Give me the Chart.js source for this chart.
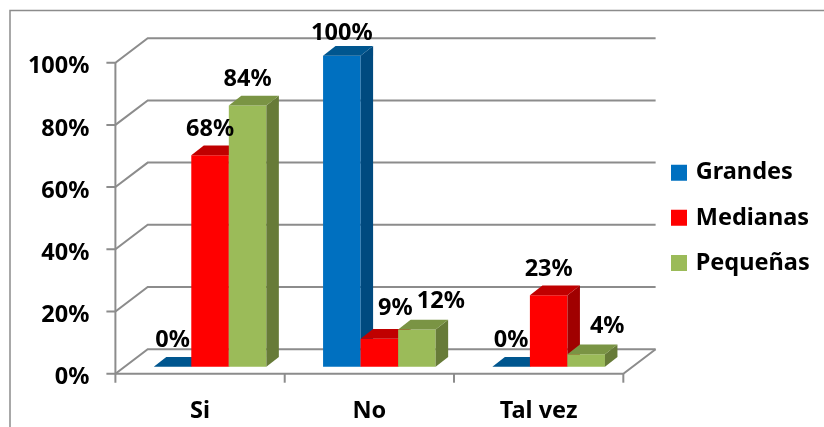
<!DOCTYPE html>
<html>
<head>
<meta charset="utf-8">
<style>
  html, body { margin: 0; padding: 0; background: #fff; overflow: hidden; }
  #wrap { position: relative; width: 824px; height: 427px; }
</style>
<script src="https://cdn.jsdelivr.net/npm/chart.js@4/dist/chart.umd.js"></script>
</head>
<body>
<div id="wrap"><canvas id="chart" width="824" height="427"></canvas></div>
<script>
const categories = ["Si", "No", "Tal vez"];
const grandes = [0, 100, 0];
const medianas = [68, 9, 23];
const pequenas = [84, 12, 4];

const FONT = "'Noto Sans'";
const FONT_SIZE = 23.5;
const LINE = "#8c8c8c";
// bar depth, wall depth, and how far the front axes sit from the bars
const BAR_DX = 12.5, BAR_DY = 9.7;
const WALL_DX = 32.3, WALL_DY = 24.5;
const FRONT_DX = -10, FRONT_DY = 7;
// label nudges per dataset/category, where the labels sit off centre
const labelNudge = { "0:1": [0, 4], "1:1": [16, -4], "2:1": [24, -2], "2:2": [21, -2] };

function line(ctx, pts) {
  ctx.beginPath();
  pts.forEach((p, i) => (i ? ctx.lineTo(p[0], p[1]) : ctx.moveTo(p[0], p[1])));
  ctx.stroke();
}

function poly(ctx, color, pts) {
  ctx.fillStyle = color;
  ctx.beginPath();
  pts.forEach((p, i) => (i ? ctx.lineTo(p[0], p[1]) : ctx.moveTo(p[0], p[1])));
  ctx.closePath();
  ctx.fill();
}

const frame3d = {
  id: "frame3d",
  afterLayout(chart) {
    // legend sits on its own, right of the back wall (it clips to this box)
    const lg = chart.legend;
    const p = lg.options.labels.padding;
    lg.left = 674 - p;
    lg.top = 161 - p;
    lg.right = chart.width;
    lg.bottom = chart.height;
  },
  beforeDatasetsDraw(chart) {
    const { ctx, scales: { x, y } } = chart;
    const left = x.left + FRONT_DX, right = x.right + FRONT_DX;
    ctx.save();
    ctx.strokeStyle = LINE;

    // outer chart border, cut off by the picture on the right and bottom
    ctx.lineWidth = 1.5;
    line(ctx, [[10, 427], [10, 10.5], [824, 10.5]]);

    ctx.lineWidth = 2;
    y.ticks.forEach((t) => {
      const py = y.getPixelForValue(t.value) + FRONT_DY;
      line(ctx, [[left - 9, py], [left, py], [left + WALL_DX, py - WALL_DY], [right + WALL_DX, py - WALL_DY]]);
    });
    const y0 = y.getPixelForValue(0) + FRONT_DY;
    const y100 = y.getPixelForValue(100) + FRONT_DY;
    line(ctx, [[left, y100], [left, y0 + 9]]);
    line(ctx, [[left, y0], [right, y0], [right + WALL_DX, y0 - WALL_DY]]);
    categories.forEach((c, i) => {
      const tx = left + ((right - left) * (i + 1)) / categories.length;
      line(ctx, [[tx, y0], [tx, y0 + 9]]);
    });
    ctx.restore();
  },
  // chart.js paints the first dataset last, here the later series must overlap the earlier
  beforeDatasetDraw() {
    return false;
  },
  afterDatasetsDraw(chart) {
    const { ctx } = chart;
    chart.data.datasets.forEach((ds, d) => {
      chart.getDatasetMeta(d).data.forEach((bar) => {
        const l = bar.x - bar.width / 2, r = bar.x + bar.width / 2;
        bar.draw(ctx);
        poly(ctx, ds.sideColor, [[r, bar.y], [r + BAR_DX, bar.y - BAR_DY], [r + BAR_DX, bar.base - BAR_DY], [r, bar.base]]);
        poly(ctx, ds.capColor, [[l, bar.y], [l + BAR_DX, bar.y - BAR_DY], [r + BAR_DX, bar.y - BAR_DY], [r, bar.y]]);
      });
    });
    ctx.save();
    ctx.font = "bold " + FONT_SIZE + "px " + FONT;
    ctx.fillStyle = "#000";
    ctx.textAlign = "center";
    ctx.textBaseline = "middle";
    chart.data.datasets.forEach((ds, d) => {
      chart.getDatasetMeta(d).data.forEach((bar, i) => {
        const n = labelNudge[d + ":" + i] || [0, 0];
        ctx.fillText(ds.data[i] + "%", bar.x + n[0], bar.y - 26 + n[1]);
      });
    });
    ctx.restore();
  },
};

new Chart(document.getElementById("chart"), {
  type: "bar",
  data: {
    labels: categories,
    datasets: [
      { label: "Grandes", data: grandes, backgroundColor: "#0070c0", sideColor: "#004a7f", capColor: "#00568f" },
      { label: "Medianas", data: medianas, backgroundColor: "#ff0000", sideColor: "#a00000", capColor: "#c00000" },
      { label: "Pequeñas", data: pequenas, backgroundColor: "#9bbb59", sideColor: "#677b38", capColor: "#7a9444" },
    ],
  },
  options: {
    responsive: false,
    animation: false,
    layout: { padding: { top: 55.7, right: 23.4, bottom: 0, left: 0 } },
    datasets: { bar: { categoryPercentage: 0.665, barPercentage: 1, borderWidth: 0 } },
    scales: {
      x: {
        grid: { display: false },
        border: { display: false },
        afterFit(s) { s.height = 60.3; },
        ticks: {
          color: "#000",
          font: { family: FONT, size: FONT_SIZE, weight: "bold" },
          padding: 23,
          labelOffset: -10,
          maxRotation: 0,
        },
      },
      y: {
        min: 0,
        max: 100,
        grid: { display: false },
        border: { display: false },
        afterFit(s) { s.width = 125.4; },
        ticks: {
          stepSize: 20,
          color: "#000",
          font: { family: FONT, size: FONT_SIZE, weight: "bold" },
          padding: 28,
          labelOffset: 11,
          callback: (v) => v + "%",
        },
      },
    },
    plugins: {
      tooltip: { enabled: false },
      legend: {
        position: "right",
        align: "start",
        labels: {
          color: "#000",
          boxWidth: 10,
          boxHeight: 10,
          padding: 21.6,
          font: { family: FONT, size: FONT_SIZE, weight: "bold" },
          // thick same-colour stroke: keeps the swatch 16px but the text closer to it
          generateLabels(chart) {
            return Chart.defaults.plugins.legend.labels.generateLabels(chart).map((it) => ({
              ...it,
              lineWidth: 6,
              strokeStyle: it.fillStyle,
            }));
          },
        },
      },
    },
  },
  plugins: [frame3d],
});
</script>
</body>
</html>
